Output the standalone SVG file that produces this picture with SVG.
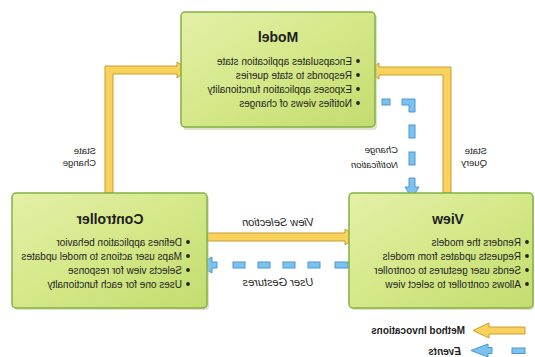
<svg xmlns="http://www.w3.org/2000/svg" width="535" height="357" viewBox="0 0 535 357">
<defs>
<linearGradient id="g" x1="0" y1="0" x2="1" y2="1">
<stop offset="0" stop-color="#e4f0a8"/>
<stop offset="0.5" stop-color="#d4e888"/>
<stop offset="1" stop-color="#c3dc6e"/>
</linearGradient>
<style>
.box{fill:url(#g);stroke:#84b043;stroke-width:1.5}
.sh{fill:#b9c7a0;opacity:0.5}
.ya{fill:#f8d25a;stroke:#c99d35;stroke-width:1}
.ev{fill:#7cc2ee;stroke:#4a97d0;stroke-width:1}
.t{font-family:"Liberation Sans",Arial,sans-serif;fill:#1e1e1e}
.ti{font-size:14px;font-weight:bold;text-anchor:middle}
.b{font-size:10px}
.lb{font-size:9.5px}
.it{font-style:italic}
.bd{font-weight:bold}
.dot{fill:#222}
</style>
</defs>
<rect width="535" height="357" fill="#fff"/>

<g id="connectors">
<polygon class="ya" points="105,193 105,66 177,66 177,62 189,70 177,78 177,74 113,74 113,193"/>
<polygon class="ya" points="451,193 451,67 379,67 379,63 367,71 379,79 379,75 443,75 443,193"/>
<polygon class="ya" points="207,233 345,233 345,229 357,237 345,245 345,241 207,241"/>
<g>
<rect class="ev" x="382" y="99" width="8" height="6"/>
<polygon class="ev" points="402,99 415,99 415,112 409,112 409,105 402,105"/>
<rect class="ev" x="409" y="125" width="6" height="13"/>
<rect class="ev" x="409" y="152" width="6" height="13"/>
<polygon class="ev" points="409,178 415,178 415,187 419,187 412,198 405,187 409,187"/>
</g>
<g>
<polygon class="ev" points="198,265 212,257 212,262 217,262 217,268 212,268 212,273"/>
<rect class="ev" x="233" y="262" width="12" height="6"/>
<rect class="ev" x="258" y="262" width="12" height="6"/>
<rect class="ev" x="283" y="262" width="12" height="6"/>
<rect class="ev" x="308" y="262" width="12" height="6"/>
<rect class="ev" x="335" y="262" width="13" height="6"/>
</g>
<g transform="scale(-1,1)">
<text class="t lb" x="-96" y="154">State</text>
<text class="t lb" x="-96" y="166">Change</text>
<text class="t lb it" x="-398" y="153">Change</text>
<text class="t lb it" x="-398" y="168">Notification</text>
<text class="t lb" x="-487" y="154">State</text>
<text class="t lb" x="-487" y="166">Query</text>
<text class="t it" x="-278" y="225.5" text-anchor="middle" font-size="11">View Selection</text>
<text class="t it" x="-278" y="285.5" text-anchor="middle" font-size="11">User Gestures</text>
</g>
</g>

<g id="model">
<rect class="sh" x="183" y="14" width="194" height="116" rx="4"/>
<rect class="box" x="181" y="12" width="194" height="115" rx="4"/>
<circle class="dot" cx="358" cy="61" r="1.9"/>
<circle class="dot" cx="358" cy="75" r="1.9"/>
<circle class="dot" cx="358" cy="89" r="1.9"/>
<circle class="dot" cx="358" cy="103" r="1.9"/>
<g transform="scale(-1,1)">
<text class="t ti" x="-278" y="42">Model</text>
<text class="t b" x="-352" y="64.5">Encapsulates application state</text>
<text class="t b" x="-352" y="78.5">Responds to state queries</text>
<text class="t b" x="-352" y="92.5">Exposes application functionality</text>
<text class="t b" x="-352" y="106.5">Notifies views of changes</text>
</g>
</g>

<g id="controller">
<rect class="sh" x="14" y="195" width="195" height="115" rx="4"/>
<rect class="box" x="12" y="193" width="195" height="115" rx="4"/>
<circle class="dot" cx="188" cy="242" r="1.9"/>
<circle class="dot" cx="188" cy="256" r="1.9"/>
<circle class="dot" cx="188" cy="270" r="1.9"/>
<circle class="dot" cx="188" cy="284" r="1.9"/>
<g transform="scale(-1,1)">
<text class="t ti" x="-110" y="224">Controller</text>
<text class="t b" x="-182" y="245.5">Defines application behavior</text>
<text class="t b" x="-182" y="259.5">Maps user actions to model updates</text>
<text class="t b" x="-182" y="273.5">Selects view for response</text>
<text class="t b" x="-182" y="287.5">Uses one for each functionalty</text>
</g>
</g>

<g id="view">
<rect class="sh" x="351" y="195" width="183" height="115" rx="4"/>
<rect class="box" x="349" y="193" width="184" height="115" rx="4"/>
<circle class="dot" cx="527" cy="242" r="1.9"/>
<circle class="dot" cx="527" cy="256" r="1.9"/>
<circle class="dot" cx="527" cy="270" r="1.9"/>
<circle class="dot" cx="527" cy="284" r="1.9"/>
<g transform="scale(-1,1)">
<text class="t ti" x="-448" y="224">View</text>
<text class="t b" x="-521" y="245.5">Renders the models</text>
<text class="t b" x="-521" y="259.5">Requests updates from models</text>
<text class="t b" x="-521" y="273.5">Sends user gestures to controller</text>
<text class="t b" x="-521" y="287.5">Allows controller to select view</text>
</g>
</g>

<g id="legend">
<polygon class="ya" points="473,330.5 489,323 489,327 525,327 525,334 489,334 489,338"/>
<polygon class="ev" points="471,350.5 488,344 488,347.5 492,347.5 492,353.5 488,353.5 488,357"/>
<rect class="ev" x="512" y="348" width="13" height="5.5"/>
<g transform="scale(-1,1)">
<text class="t bd" x="-465" y="334" font-size="10">Method Invocations</text>
<text class="t bd it" x="-461" y="354.5" font-size="10">Events</text>
</g>
</g>
</svg>
